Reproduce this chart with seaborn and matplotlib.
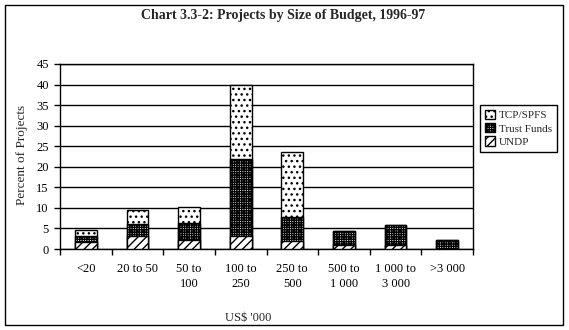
import matplotlib
matplotlib.use("Agg")
import matplotlib.pyplot as plt
import seaborn as sns
import pandas as pd
import numpy as np
from matplotlib.patches import Patch, Rectangle

categories = ["<20", "20 to 50", "50 to\n100", "100 to\n250", "250 to\n500",
              "500 to\n1 000", "1 000 to\n3 000", ">3 000"]
undp = [1.6, 3.1, 2.3, 3.1, 1.9, 0.9, 1.0, 0.0]
trust_funds = [1.6, 3.1, 4.1, 18.7, 5.9, 3.6, 4.9, 2.3]
tcp_spfs = [1.5, 3.2, 3.9, 18.1, 15.9, 0.0, 0.0, 0.0]
y_ticks = [0, 5, 10, 15, 20, 25, 30, 35, 40, 45]

sns.set_theme(style="white")
plt.rcParams["font.family"] = ["Liberation Serif", "DejaVu Serif"]
plt.rcParams["hatch.linewidth"] = 1.0

df = pd.DataFrame({"cat": categories, "UNDP": undp, "Trust Funds": trust_funds,
                   "TCP/SPFS": tcp_spfs})
df["c_undp"] = df["UNDP"]
df["c_tf"] = df["UNDP"] + df["Trust Funds"]
df["c_total"] = df["c_tf"] + df["TCP/SPFS"]

W, H = 569, 330
fig = plt.figure(figsize=(W / 100, H / 100), dpi=100)
ax = fig.add_axes([60 / W, 81 / H, 413 / W, 185 / H])

TF_HATCH = "+" * 7
styles = [("c_total", "..."), ("c_tf", TF_HATCH), ("c_undp", "////")]
for col, hatch in styles:
    sns.barplot(data=df, x="cat", y=col, order=categories, color="white",
                saturation=1, edgecolor="black", linewidth=1.0, hatch=hatch,
                width=0.42, ax=ax, zorder=3)

ax.set_xlim(-0.5, len(categories) - 0.5)
ax.set_ylim(0, 45)
ax.set_yticks(y_ticks)
ax.set_axisbelow(True)
ax.yaxis.grid(True, color="black", linewidth=1.0)
ax.xaxis.grid(False)
for s in ax.spines.values():
    s.set_visible(True)
    s.set_color("black")
    s.set_linewidth(1.0)
ax.set_xlabel("")
ax.set_ylabel("")
ax.set_xticks(range(len(categories)))
ax.set_xticklabels(categories, linespacing=1.35)
ax.set_xticks(np.arange(-0.5, len(categories), 1.0), minor=True)
ax.tick_params(axis="x", which="major", length=0, pad=10, labelsize=9,
               colors="black")
ax.tick_params(axis="x", which="minor", length=4, width=1, direction="out",
               color="black", bottom=True)
ax.tick_params(axis="y", length=4, width=1, direction="out", pad=4,
               labelsize=9, colors="black", left=True)

fig.text(283 / W, 1 - 15 / H, "Chart 3.3-2: Projects by Size of Budget, 1996-97",
         ha="center", va="center", fontsize=10, fontweight="bold")
fig.text(22 / W, 1 - 155 / H, "Percent of Projects", rotation=90,
         ha="center", va="center", fontsize=9.5)
fig.text(248 / W, 1 - 318 / H, "US$ '000", ha="center", va="center", fontsize=9)

handles = [Patch(facecolor="white", edgecolor="black", hatch="...", label="TCP/SPFS"),
           Patch(facecolor="white", edgecolor="black", hatch=TF_HATCH, label="Trust Funds"),
           Patch(facecolor="white", edgecolor="black", hatch="////", label="UNDP")]
leg = fig.legend(handles=handles, loc="upper left",
                 bbox_to_anchor=(480 / W, 1 - 105 / H), fontsize=8,
                 frameon=True, fancybox=False, edgecolor="black", framealpha=1,
                 handlelength=0.9, handleheight=0.9, handletextpad=0.35,
                 labelspacing=0.25, borderpad=0.45, borderaxespad=0)
leg.get_frame().set_linewidth(1.0)

fig.add_artist(Rectangle((5 / W, 5 / H), 558 / W, 320 / H, transform=fig.transFigure,
                         fill=False, edgecolor="black", linewidth=1.0))

fig.savefig("out.png", dpi=100, facecolor="white")
